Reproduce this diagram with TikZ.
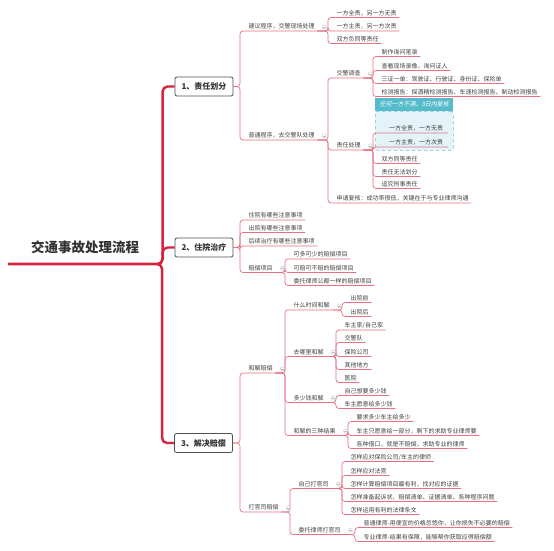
\documentclass[tikz,border=0pt]{standalone}
\usepackage{fontspec}
\newfontfamily\cjk{Noto Sans CJK SC}
\newfontfamily\cjkit{Noto Sans CJK SC}[FakeSlant=0.2]
\usetikzlibrary{calc}
\definecolor{trunkred}{RGB}{214,35,64}
\definecolor{linkpink}{RGB}{232,112,132}
\definecolor{txtgray}{RGB}{64,64,64}
\definecolor{boxline}{RGB}{80,80,80}
\definecolor{calloutHead}{RGB}{86,188,203}
\definecolor{calloutBody}{RGB}{228,243,248}
\definecolor{calloutEdge}{RGB}{110,185,205}
\definecolor{icongray}{RGB}{195,195,195}
\newcommand\mmtext[1]{\hspace*{8pt}#1\hspace*{2pt}}
\newcommand\leafnode[4]{\node[leaf] (#1) at (#2,#3) {\mmtext{#4}};}
\newcommand\linkto[2]{\draw[link] (#1.south east) -| (#2.south west) -- (#2.south east);}
\newcommand\toplink[2]{\draw[link] (#1.east) -| (#2.south west) -- (#2.south east);}
\newcommand\fold[1]{\node[icon] (ic#1) at ([xshift=7pt]#1.east) {};}
\begin{document}
\begin{tikzpicture}[x=1pt,y=-1pt,
 leaf/.style={anchor=south west, inner xsep=0.5pt, inner ysep=1pt, text height=5pt, text depth=1pt, font=\cjk\fontsize{6}{7}\selectfont, text=txtgray},
 link/.style={draw=linkpink, line width=0.7pt, rounded corners=3pt},
 trunk/.style={draw=trunkred, line width=2.4pt, rounded corners=5pt},
 topic/.style={draw=boxline, line width=0.8pt, rounded corners=2pt, fill=white, minimum width=58pt, minimum height=19pt, inner sep=0pt, font=\cjk\bfseries\fontsize{8}{9}\selectfont, text=black!80},
 icon/.style={circle, draw=icongray, line width=0.4pt, minimum size=4pt, inner sep=0pt, fill=white,
   path picture={\draw[icongray, line width=0.4pt] ([xshift=-1.2pt]path picture bounding box.center) -- ([xshift=1.2pt]path picture bounding box.center);}}
]
\fill[white] (0,0) rectangle (554,550);
\useasboundingbox (0,0) rectangle (554,550);

% root and topics
\node[font=\cjk\bfseries\fontsize{13.5}{15}\selectfont, text=black!80, inner sep=0pt] (root) at (85,247) {交通事故处理流程};
\coordinate (rootL) at (8,264);
\node[topic] (n1) at (204,86.5) {1、责任划分};
\node[topic] (n2) at (204,247.5) {2、住院治疗};
\node[topic] (n3) at (203.5,443) {3、解决赔偿};
\draw[trunk] (rootL) -| ([xshift=-12pt]n1.west) -- (n1.west);
\draw[trunk] (rootL) -| ([xshift=-12pt]n2.west) -- (n2.west);
\draw[trunk] (rootL) -| ([xshift=-12pt]n3.west) -- (n3.west);

% callout box
\node[draw=calloutEdge, dashed, line width=0.5pt, fill=calloutBody, rounded corners=2pt, minimum width=78pt, minimum height=39pt, inner sep=0pt, anchor=north west] (cbody) at (375,111) {};
\node[fill=calloutHead, minimum width=78pt, minimum height=13pt, anchor=south west, inner sep=0pt, font=\cjkit\fontsize{6}{7}\selectfont, text=white] (chead) at (cbody.north west) {任何一方不满，3日内复核};

% ---------- 1 ----------
\leafnode{A}{240}{31}{建议程序，交警现场处理}
\leafnode{B}{240}{140}{普通程序，去交警队处理}
\toplink{n1}{A}\toplink{n1}{B}
\leafnode{a1}{328}{17.5}{一方全责，另一方无责}
\leafnode{a2}{328}{31}{一方主责，另一方次责}
\leafnode{a3}{328}{43.5}{双方负同等责任}
\linkto{A}{a1}\linkto{A}{a2}\linkto{A}{a3}
\leafnode{b1}{328}{78}{交警调查}
\leafnode{b2}{328}{150}{责任处理}
\leafnode{b3}{328}{203}{申请复核：成功率很低，关键在于与专业律师沟通}
\linkto{B}{b1}\linkto{B}{b2}\linkto{B}{b3}
\leafnode{c1}{373}{56.5}{制作询问笔录}
\leafnode{c2}{373}{70.5}{查看现场录像，询问证人}
\leafnode{c3}{373}{83.5}{三证一单：驾驶证、行驶证、身份证、保险单}
\leafnode{c4}{373}{96.5}{检测报告：探酒精检测报告、车速检测报告、制动检测报告}
\linkto{b1}{c1}\linkto{b1}{c2}\linkto{b1}{c3}\linkto{b1}{c4}
\node[leaf] (d1) at (373,133) {\hspace*{15.5pt}一方全责，一方无责\hspace*{4pt}};
\node[leaf] (d2) at (373,147) {\hspace*{15.5pt}一方主责，一方次责\hspace*{4pt}};
\leafnode{d3}{373}{163.5}{双方同等责任}
\leafnode{d4}{373}{176.5}{责任无法划分}
\leafnode{d5}{373}{188.5}{追究刑事责任}
\linkto{b2}{d1}\linkto{b2}{d2}\linkto{b2}{d3}\linkto{b2}{d4}\linkto{b2}{d5}

% ---------- 2 ----------
\leafnode{e1}{240}{220}{住院有哪些注意事项}
\leafnode{e2}{240}{232.5}{出院有哪些注意事项}
\leafnode{e3}{240}{246}{后续治疗有哪些注意事项}
\leafnode{e4}{240}{272.5}{赔偿项目}
\toplink{n2}{e1}\toplink{n2}{e2}\toplink{n2}{e3}\toplink{n2}{e4}
\leafnode{f1}{285}{259}{可多可少的赔偿项目}
\leafnode{f2}{285}{272.5}{可赔可不赔的赔偿项目}
\leafnode{f3}{285}{285.5}{委托律师公都一样的赔偿项目}
\linkto{e4}{f1}\linkto{e4}{f2}\linkto{e4}{f3}

% ---------- 3 ----------
\leafnode{g1}{240}{373}{和解赔偿}
\leafnode{g2}{240}{512}{打官司赔偿}
\toplink{n3}{g1}\toplink{n3}{g2}
\leafnode{h1}{285}{310}{什么时间和解}
\leafnode{h2}{285}{356.5}{去哪里和解}
\leafnode{h3}{285}{402.5}{多少钱和解}
\leafnode{h4}{285}{435.5}{和解的三种结果}
\linkto{g1}{h1}\linkto{g1}{h2}\linkto{g1}{h3}\linkto{g1}{h4}
\leafnode{p1}{342}{302.5}{出院前}
\leafnode{p2}{342}{316.5}{出院后}
\linkto{h1}{p1}\linkto{h1}{p2}
\leafnode{q1}{336}{330}{车主家/自己家}
\leafnode{q2}{336}{342.5}{交警队}
\leafnode{q3}{336}{356.5}{保险公司}
\leafnode{q4}{336}{369.5}{其他地方}
\leafnode{q5}{336}{382.5}{医院}
\linkto{h2}{q1}\linkto{h2}{q2}\linkto{h2}{q3}\linkto{h2}{q4}\linkto{h2}{q5}
\leafnode{r1}{336}{395.5}{自己想要多少钱}
\leafnode{r2}{336}{408.5}{车主愿意给多少钱}
\linkto{h3}{r1}\linkto{h3}{r2}
\leafnode{s1}{348}{421.5}{要求多少车主给多少}
\leafnode{s2}{348}{435.5}{车主只愿意给一部分，剩下的求助专业律师要}
\leafnode{s3}{348}{448.5}{各种借口，就是不赔偿，求助专业的律师}
\linkto{h4}{s1}\linkto{h4}{s2}\linkto{h4}{s3}
\leafnode{i1}{290}{488.5}{自己打官司}
\leafnode{i2}{290}{534.5}{委托律师打官司}
\linkto{g2}{i1}\linkto{g2}{i2}
\leafnode{j1}{342}{461.5}{怎样应对保险公司/车主的律师}
\leafnode{j2}{342}{475.5}{怎样应对法官}
\leafnode{j3}{342}{488.5}{怎样计算赔偿项目最有利，找对应的证据}
\leafnode{j4}{342}{501.5}{怎样准备起诉状、赔偿清单、证据清单、各种程序问题}
\leafnode{j5}{342}{514.5}{怎样运用有利的法律条文}
\linkto{i1}{j1}\linkto{i1}{j2}\linkto{i1}{j3}\linkto{i1}{j4}\linkto{i1}{j5}
\leafnode{k1}{355}{527.5}{普通律师-用便宜的价格忽悠你，让你损失不必要的赔偿}
\leafnode{k2}{355}{541.5}{专业律师-结果有保障，能够帮你获取应得赔偿额}
\linkto{i2}{k1}\linkto{i2}{k2}

% fold icons
\fold{A}\fold{B}\fold{b1}\fold{b2}\fold{e4}\fold{g1}\fold{g2}
\fold{h1}\fold{h2}\fold{h3}\fold{h4}\fold{i1}\fold{i2}
\end{tikzpicture}
\end{document}
